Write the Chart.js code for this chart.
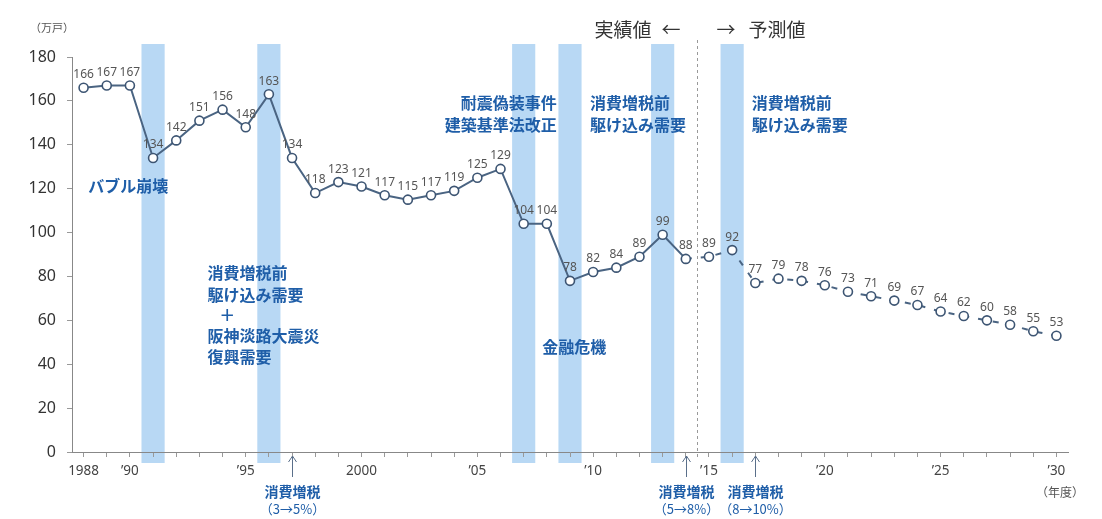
<!DOCTYPE html>
<html>
<head>
<meta charset="utf-8">
<script src="https://cdn.jsdelivr.net/npm/chart.js@4.4.1/dist/chart.umd.min.js"></script>
<style>
  body { margin: 0; background: #fff; }
  #wrap { width: 1102px; height: 519px; }
</style>
</head>
<body>
<div id="wrap"><canvas id="housingStarts" width="1102" height="519"></canvas></div>
<script>
// 新設住宅着工戸数（万戸）
const years = [1988, 1989, 1990, 1991, 1992, 1993, 1994, 1995, 1996, 1997, 1998, 1999,
               2000, 2001, 2002, 2003, 2004, 2005, 2006, 2007, 2008, 2009, 2010, 2011,
               2012, 2013, 2014, 2015, 2016, 2017, 2018, 2019, 2020, 2021, 2022, 2023,
               2024, 2025, 2026, 2027, 2028, 2029, 2030];
const starts = [166, 167, 167, 134, 142, 151, 156, 148, 163, 134, 118, 123,
                121, 117, 115, 117, 119, 125, 129, 104, 104, 78, 82, 84,
                89, 99, 88, 89, 92, 77, 79, 78, 76, 73, 71, 69,
                67, 64, 62, 60, 58, 55, 53];
const lastActualYear = 2014;

const tickYears = [1988, 1990, 1995, 2000, 2005, 2010, 2015, 2020, 2025, 2030];
const tickLabels = ["1988", "’90", "’95", "2000", "’05", "’10", "’15", "’20", "’25", "’30"];

const bandYears = [1991, 1996, 2007, 2009, 2013, 2016];
const taxYears = [1997, 2014, 2017];
const taxRates = ["（3→5%）", "（5→8%）", "（8→10%）"];

const BLUE = "#1f5ea8";
const LINE = "#4a6482";
const JP = '"Noto Sans CJK JP", "Noto Sans", sans-serif';

const overlay = {
    id: "overlay",
    beforeDraw(chart) {
        const { ctx, scales: { x } } = chart;
        ctx.save();
        ctx.fillStyle = "rgba(160, 203, 240, 0.75)";
        bandYears.forEach(yr => {
            const l = x.getPixelForValue(yr - 0.5);
            const r = x.getPixelForValue(yr + 0.5);
            ctx.fillRect(l, 44, r - l, 419);
        });
        // actual / forecast divider
        const dx = Math.round(x.getPixelForValue(lastActualYear + 0.5)) + 0.5;
        ctx.strokeStyle = "#999";
        ctx.lineWidth = 1;
        ctx.setLineDash([3, 3]);
        ctx.beginPath();
        ctx.moveTo(dx, 40);
        ctx.lineTo(dx, 458);
        ctx.stroke();
        ctx.restore();
    },
    afterDatasetsDraw(chart) {
        const { ctx, scales: { x, y } } = chart;
        const meta = chart.getDatasetMeta(0);
        ctx.save();

        // value labels
        ctx.font = '12px "Noto Sans", sans-serif';
        ctx.fillStyle = "#555";
        ctx.textAlign = "center";
        ctx.textBaseline = "bottom";
        meta.data.forEach((pt, i) => {
            ctx.fillText(String(starts[i]), pt.x, pt.y - 7);
        });

        // units
        ctx.fillStyle = "#555";
        ctx.font = "11px " + JP;
        ctx.textAlign = "left";
        ctx.textBaseline = "middle";
        ctx.fillText("（万戸）", 30, 28);
        ctx.font = "12px " + JP;
        ctx.fillText("（年度）", 1036, 492);

        // 実績値 / 予測値
        const dx = x.getPixelForValue(lastActualYear + 0.5);
        ctx.fillStyle = "#333";
        ctx.font = "19px " + JP;
        ctx.textAlign = "right";
        ctx.fillText("実績値", dx - 46, 30);
        ctx.fillText("←", dx - 17, 30);
        ctx.textAlign = "left";
        ctx.fillText("→", dx + 19, 30);
        ctx.fillText("予測値", dx + 51, 30);

        // event notes
        ctx.fillStyle = BLUE;
        ctx.font = "bold 16px " + JP;
        const note = (lines, yr, val, align, step) => {
            ctx.textAlign = align;
            lines.forEach((t, i) => {
                ctx.fillText(t, x.getPixelForValue(yr), y.getPixelForValue(val) + i * step);
            });
        };
        note(["バブル崩壊"], 1988.2, 121.2, "left", 22);
        note(["消費増税前", "駆け込み需要"], 1993.35, 81.6, "left", 22);
        note(["＋"], 1994.2, 62.5, "center", 22);
        note(["阪神淡路大震災", "復興需要"], 1993.35, 52.8, "left", 21);
        note(["耐震偽装事件", "建築基準法改正"], 2008.43, 159.1, "right", 22);
        note(["消費増税前", "駆け込み需要"], 2009.86, 159.1, "left", 22);
        note(["消費増税前", "駆け込み需要"], 2016.85, 159.1, "left", 22);
        note(["金融危機"], 2007.8, 47.9, "left", 22);

        // consumption tax hikes
        ctx.strokeStyle = "#5a6f8a";
        ctx.lineWidth = 1;
        taxYears.forEach((yr, i) => {
            const ax = Math.round(x.getPixelForValue(yr)) + 0.5;
            ctx.beginPath();
            ctx.moveTo(ax, 477);
            ctx.lineTo(ax, 456);
            ctx.moveTo(ax - 4, 462);
            ctx.lineTo(ax, 456);
            ctx.lineTo(ax + 4, 462);
            ctx.stroke();
            ctx.textAlign = "center";
            ctx.fillStyle = BLUE;
            ctx.font = "bold 14px " + JP;
            ctx.fillText("消費増税", ax, 492);
            ctx.font = "13px " + JP;
            ctx.fillText(taxRates[i], ax, 509);
        });
        ctx.restore();
    }
};

const splitIndex = years.indexOf(lastActualYear);

new Chart(document.getElementById("housingStarts"), {
    type: "line",
    data: {
        datasets: [{
            data: years.map((yr, i) => ({ x: yr, y: starts[i] })),
            borderColor: LINE,
            borderWidth: 2,
            pointRadius: 4.5,
            pointBorderWidth: 1.6,
            pointBackgroundColor: "#fff",
            pointBorderColor: "#3d5573",
            tension: 0,
            segment: {
                borderDash: c => c.p0DataIndex >= splitIndex ? [6, 9] : undefined
            }
        }]
    },
    options: {
        responsive: false,
        animation: false,
        layout: { padding: { top: 57, right: 34, left: 0, bottom: 0 } },
        plugins: {
            legend: { display: false },
            tooltip: { enabled: false }
        },
        scales: {
            x: {
                type: "linear",
                min: 1987.5,
                max: 2030.5,
                afterFit: s => { s.height = 67; },
                afterBuildTicks: s => { s.ticks = years.map(v => ({ value: v })); },
                grid: { drawOnChartArea: false, tickLength: 5, color: "#999" },
                border: { color: "#888", width: 1 },
                ticks: {
                    autoSkip: false,
                    maxRotation: 0,
                    padding: 6,
                    color: "#444",
                    font: { family: '"Noto Sans", sans-serif', size: 13.5 },
                    callback: v => {
                        const k = tickYears.indexOf(v);
                        return k >= 0 ? tickLabels[k] : "";
                    }
                }
            },
            y: {
                min: 0,
                max: 180,
                afterFit: s => { s.width = 72; },
                grid: { drawOnChartArea: false, tickLength: 5, color: "#999" },
                border: { color: "#888", width: 1 },
                ticks: {
                    stepSize: 20,
                    padding: 11,
                    color: "#333",
                    font: { family: '"Noto Sans", sans-serif', size: 16 }
                }
            }
        }
    },
    plugins: [overlay]
});
</script>
</body>
</html>
